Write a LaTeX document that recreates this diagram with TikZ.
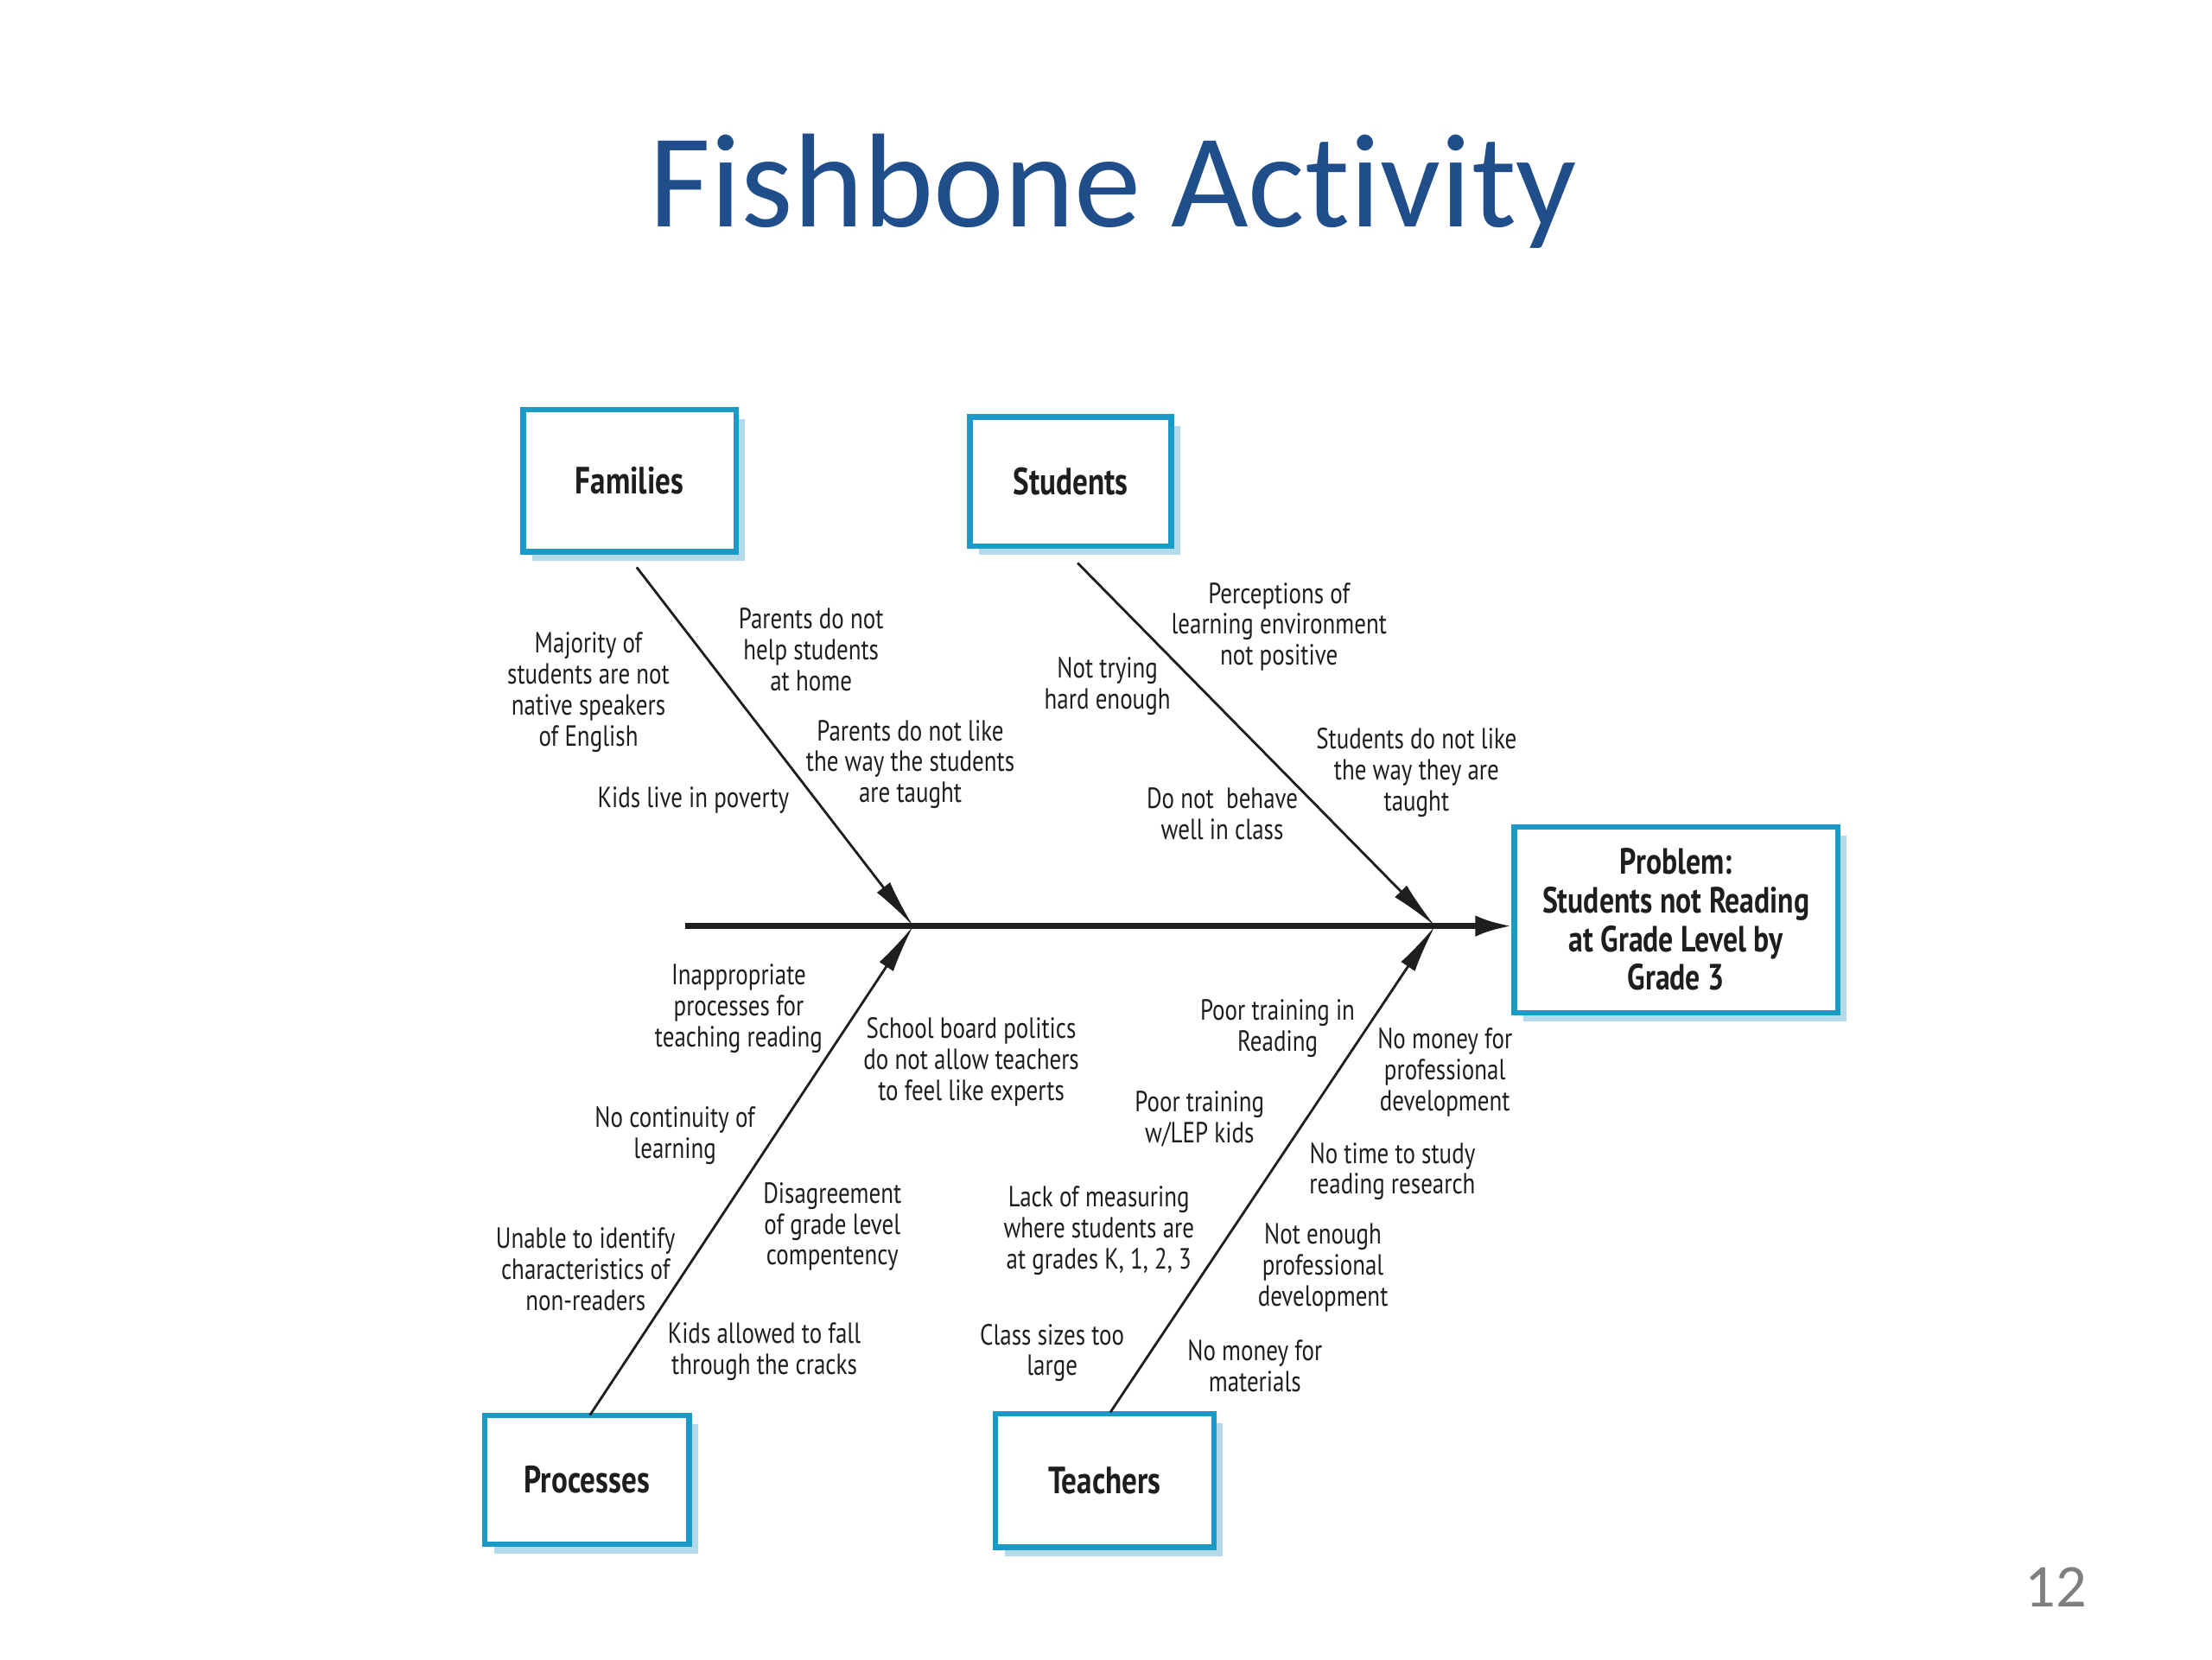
\documentclass[tikz,border=0pt]{standalone}
\usepackage{fontspec}
\usetikzlibrary{arrows.meta,shadows}
\newfontfamily\dfont[FakeStretch=0.8]{PT Sans}
\newfontfamily\tfont[Ligatures=NoCommon]{Carlito}
\definecolor{titleblue}{RGB}{31,78,138}
\definecolor{boxblue}{RGB}{26,155,199}
\definecolor{shadowblue}{RGB}{178,218,234}
\definecolor{txt}{RGB}{30,30,30}
\definecolor{pgnum}{RGB}{127,127,127}
\begin{document}
\begin{tikzpicture}[x=0.01641cm,y=-0.01641cm,
  catbox/.style={draw=boxblue, line width=1.8pt, fill=white,
    drop shadow={shadow xshift=3pt, shadow yshift=-3pt, fill=shadowblue, opacity=1},
    font=\dfont\bfseries\fontsize{12.5}{14}\selectfont, text=txt, inner sep=0pt, align=center},
  cause/.style={align=center, text=txt, font=\dfont\fontsize{9.6}{10.2}\selectfont, inner sep=1pt},
  bone/.style={line width=0.8pt, draw=txt, -{Latex[length=16pt,width=5.5pt]}},
  spine/.style={line width=1.8pt, draw=txt, -{Latex[length=12pt,width=7pt]}}]
\useasboundingbox (0,0) rectangle (1560,1170);

% title and page number
\node[font=\tfont\fontsize{44}{50}\selectfont, text=titleblue, anchor=base] (title) at (785,160) {Fishbone Activity};
\node[font=\tfont\fontsize{20}{24}\selectfont, text=pgnum, anchor=base] (pg) at (1450,1133) {12};

% category boxes
\node[catbox, minimum width={150*0.01641cm}, minimum height={100*0.01641cm}] (fam) at (444,339) {Families};
\node[catbox, minimum width={142*0.01641cm}, minimum height={91*0.01641cm}] (stu) at (755,339.5) {Students};
\node[catbox, minimum width={144*0.01641cm}, minimum height={91*0.01641cm}] (pro) at (414,1043.5) {Processes};
\node[catbox, minimum width={154*0.01641cm}, minimum height={94*0.01641cm}] (tea) at (779,1044) {Teachers};
\node[catbox, minimum width={228*0.01641cm}, minimum height={131*0.01641cm},
  font=\dfont\bfseries\fontsize{12}{12.7}\selectfont] (prob) at (1182,648.5)
  {Problem:\\Students not Reading\\at Grade Level by\\Grade 3};

% junctions and bone starts
\coordinate (spine0) at (483,653);
\coordinate (j1) at (644,653);
\coordinate (j2) at (1012,653);
\coordinate (f0) at (449,400);
\coordinate (s0) at (760,397);
\coordinate (p0) at (416,998);
\coordinate (t0) at (783,996);

% spine and bones
\draw[spine] (spine0) -- (spine0 -| prob.west);
\draw[bone] (f0) -- (j1);
\draw[bone] (s0) -- (j2);
\draw[bone] (p0) -- (j1);
\draw[bone] (t0) -- (j2);

% Families causes
\node[cause] (c1) at (415,488) {Majority of\\students are not\\native speakers\\of English};
\node[cause] (c2) at (489,564) {Kids live in poverty};
\node[cause] (c3) at (572,458) {Parents do not\\help students\\at home};
\node[cause] (c4) at (642,539) {Parents do not like\\the way the students\\are taught};

% Students causes
\node[cause] (c5) at (902,442) {Perceptions of\\learning environment\\not positive};
\node[cause] (c6) at (781,484) {Not trying\\hard enough};
\node[cause] (c7) at (999,545) {Students do not like\\the way they are\\taught};
\node[cause] (c8) at (862,574) {Do not\ \ behave\\well in class};

% Processes causes
\node[cause] (c9) at (521,711) {Inappropriate\\processes for\\teaching reading};
\node[cause] (c10) at (685,749) {School board politics\\do not allow teachers\\to feel like experts};
\node[cause] (c11) at (476,801) {No continuity of\\learning};
\node[cause] (c12) at (587,865) {Disagreement\\of grade level\\compentency};
\node[cause] (c13) at (413,895) {Unable to identify\\characteristics of\\non-readers};
\node[cause] (c14) at (539,953) {Kids allowed to fall\\through the cracks};

% Teachers causes
\node[cause] (c15) at (901,725) {Poor training in\\Reading};
\node[cause] (c16) at (1019,756) {No money for\\professional\\development};
\node[cause] (c17) at (846,789) {Poor training\\w/LEP kids};
\node[cause] (c18) at (982,826) {No time to study\\reading research};
\node[cause] (c19) at (775,868) {Lack of measuring\\where students are\\at grades K, 1, 2, 3};
\node[cause] (c20) at (933,894) {Not enough\\professional\\development};
\node[cause] (c21) at (742,954) {Class sizes too\\large};
\node[cause] (c22) at (885,963) {No money for\\materials};
\end{tikzpicture}
\end{document}
